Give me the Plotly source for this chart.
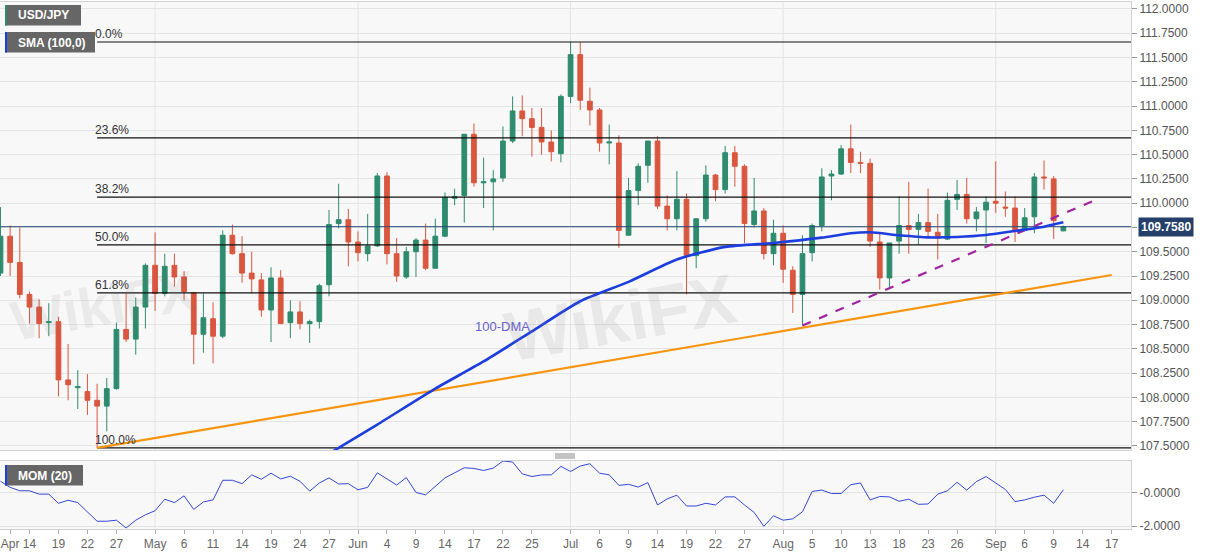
import pandas as pd
import plotly.graph_objects as go

# trading days shown on the axis (weekdays), last candle is Sep 10
all_days = [d.strftime("%Y-%m-%d") for d in pd.bdate_range("2021-04-09", "2021-09-21")]

opens = [109.28, 109.66, 109.39, 109.06, 108.93, 108.77, 108.78, 108.18, 108.10, 108.06,
         107.97, 107.91, 108.09, 108.70, 108.60, 108.93, 109.36, 109.07, 109.36, 109.24,
         109.08, 108.65, 108.81, 108.63, 109.67, 109.48, 109.28, 109.21, 108.90, 109.23,
         108.77, 108.88, 108.76, 108.78, 109.16, 109.79, 109.83, 109.60, 109.48, 109.56,
         110.28, 109.48, 109.24, 109.50, 109.62, 109.33, 109.66, 110.05, 110.08, 110.71,
         110.21, 110.22, 110.26, 110.64, 110.95, 110.87, 110.78, 110.63, 110.51, 111.10,
         111.53, 111.05, 110.96, 110.62, 110.62, 109.67, 110.13, 110.39, 110.64, 109.97,
         109.84, 110.04, 109.46, 109.84, 110.29, 110.14, 110.52, 110.38, 109.78, 109.92,
         109.48, 109.69, 109.31, 109.06, 109.49, 109.77, 110.28, 110.30, 110.56, 110.42,
         110.41, 109.60, 109.23, 109.61, 109.77, 109.73, 109.80, 109.70, 109.63, 110.04,
         110.09, 109.84, 109.93, 110.02, 109.96, 109.95, 109.72, 109.86, 110.27, 110.25,
         109.715]
highs = [109.96, 109.77, 109.75, 109.09, 109.01, 108.97, 108.83, 108.55, 108.28, 108.24,
         108.14, 108.20, 108.77, 109.07, 109.03, 109.38, 109.70, 109.48, 109.48, 109.30,
         109.08, 109.07, 108.98, 109.72, 109.78, 109.66, 109.50, 109.28, 109.34, 109.31,
         109.00, 108.99, 108.80, 109.17, 109.93, 110.20, 109.94, 109.71, 109.89, 110.31,
         110.32, 109.64, 109.55, 109.64, 109.79, 109.84, 110.11, 110.15, 110.71, 110.82,
         110.47, 110.34, 110.79, 111.10, 111.11, 110.98, 110.98, 110.75, 111.12, 111.66,
         111.66, 111.19, 110.98, 110.81, 110.70, 110.26, 110.41, 110.64, 110.69, 110.08,
         110.33, 110.10, 109.84, 110.39, 110.30, 110.59, 110.59, 110.40, 110.26, 109.95,
         109.83, 109.77, 109.35, 109.67, 109.79, 110.36, 110.34, 110.60, 110.81, 110.53,
         110.46, 109.69, 109.59, 110.07, 110.22, 109.89, 110.15, 109.89, 110.11, 110.24,
         110.26, 109.96, 110.07, 110.43, 110.12, 110.07, 109.95, 110.31, 110.44, 110.28,
         109.77]
lows = [109.25, 109.25, 109.02, 108.76, 108.61, 108.63, 108.01, 107.97, 107.88, 107.82,
        107.48, 107.65, 108.08, 108.57, 108.44, 108.71, 108.89, 109.04, 109.14, 109.00,
        108.34, 108.46, 108.35, 108.61, 109.47, 109.18, 109.07, 108.83, 108.57, 108.76,
        108.61, 108.70, 108.56, 108.71, 109.04, 109.74, 109.35, 109.40, 109.40, 109.55,
        109.37, 109.19, 109.22, 109.24, 109.31, 109.33, 109.65, 109.98, 109.80, 110.17,
        109.95, 109.72, 110.22, 110.62, 110.69, 110.48, 110.50, 110.43, 110.42, 111.03,
        110.96, 110.80, 110.53, 110.40, 109.54, 109.67, 109.98, 110.21, 109.94, 109.72,
        109.72, 109.06, 109.33, 109.81, 110.02, 110.10, 110.17, 109.59, 109.75, 109.42,
        109.36, 109.18, 108.87, 108.74, 109.40, 109.71, 110.03, 110.29, 110.31, 110.31,
        109.55, 109.11, 109.13, 109.48, 109.48, 109.57, 109.66, 109.42, 109.62, 109.93,
        109.79, 109.71, 109.59, 109.90, 109.86, 109.60, 109.71, 109.69, 110.14, 109.63,
        109.71]
closes = [109.66, 109.39, 109.06, 108.93, 108.76, 108.78, 108.18, 108.13, 108.11, 107.97,
          107.91, 108.09, 108.70, 108.60, 108.93, 109.36, 109.07, 109.35, 109.24, 109.09,
          108.65, 108.82, 108.63, 109.67, 109.48, 109.28, 109.22, 108.90, 109.23, 108.76,
          108.88, 108.76, 108.78, 109.15, 109.78, 109.83, 109.60, 109.49, 109.56, 110.28,
          109.48, 109.25, 109.50, 109.62, 109.33, 109.66, 110.06, 110.07, 110.71, 110.21,
          110.22, 110.25, 110.64, 110.95, 110.87, 110.78, 110.63, 110.53, 111.10, 111.53,
          111.06, 110.96, 110.62, 110.63, 109.72, 110.13, 110.38, 110.64, 109.97, 109.84,
          110.04, 109.46, 109.84, 110.29, 110.14, 110.52, 110.38, 109.79, 109.92, 109.48,
          109.69, 109.32, 109.06, 109.48, 109.77, 110.27, 110.30, 110.56, 110.42, 110.41,
          109.61, 109.23, 109.59, 109.77, 109.73, 109.80, 109.71, 109.64, 110.03, 110.09,
          109.84, 109.91, 110.01, 110.00, 109.95, 109.71, 109.85, 110.27, 110.26, 109.82,
          109.758]
dates = all_days[:len(closes)]

# MOM (20)
mom = [0.66, 0.30, 0.10, 0.10, -0.10, -0.10, -0.64, -0.46, -0.60, -1.16,
       -1.70, -1.70, -1.64, -2.10, -1.64, -1.32, -1.08, -0.40, -0.60, -0.20,
       -1.00, -0.56, -0.44, 0.72, 0.72, 0.52, 1.04, 0.78, 1.14, 0.80,
       0.96, 0.66, 0.08, 0.56, 0.86, 0.50, 0.52, 0.16, 0.30, 1.16,
       0.82, 0.44, 0.88, 0.00, -0.14, 0.36, 0.86, 1.16, 1.46, 1.42,
       1.30, 1.44, 1.86, 1.80, 1.10, 0.94, 1.04, 1.04, 1.54, 1.24,
       1.56, 1.70, 1.14, 1.04, 0.42, 0.48, 0.32, 0.58, -0.74, -0.38,
       -0.16, -0.80, -0.80, -0.64, -0.74, -0.26, -0.26, -0.74, -1.18, -2.00,
       -1.38, -1.64, -1.56, -1.14, 0.06, 0.14, -0.06, -0.06, 0.46, 0.56,
       -0.44, -0.24, -0.26, -0.52, -0.40, -0.70, -0.68, -0.10, 0.10, 0.60,
       0.14, 0.64, 0.94, 0.56, 0.18, -0.54, -0.44, -0.28, -0.16, -0.64,
       0.16]

# 100-day SMA
sma_dates = ["2021-05-26", "2021-06-03", "2021-06-11", "2021-06-18", "2021-06-25",
             "2021-07-02", "2021-07-09", "2021-07-16", "2021-07-23", "2021-07-30",
             "2021-08-06", "2021-08-11", "2021-08-13", "2021-08-18", "2021-08-23",
             "2021-08-26", "2021-08-31", "2021-09-03", "2021-09-08", "2021-09-10"]
sma_values = [107.36, 107.72, 108.09, 108.37, 108.68, 108.99, 109.19, 109.42, 109.55, 109.59,
              109.645, 109.69, 109.70, 109.67, 109.648, 109.652, 109.672, 109.714, 109.758, 109.803]

# Fibonacci retracement
fib_start = "2021-04-23"
fib_high = 111.66
fib_low = 107.48
fib_ratios = [0.0, 0.236, 0.382, 0.5, 0.618, 1.0]
fib_labels = ["0.0%", "23.6%", "38.2%", "50.0%", "61.8%", "100.0%"]

# trend lines
support_dates = ["2021-04-23", "2021-09-17"]
support_values = [107.48, 109.26]
rising_dates = ["2021-08-04", "2021-09-15"]
rising_values = [108.74, 110.02]

last_price = 109.758

tick_dates = ["2021-04-12", "2021-04-14", "2021-04-19", "2021-04-22", "2021-04-27",
              "2021-05-03", "2021-05-06", "2021-05-11", "2021-05-14", "2021-05-19",
              "2021-05-24", "2021-05-27", "2021-06-01", "2021-06-04", "2021-06-09",
              "2021-06-14", "2021-06-17", "2021-06-22", "2021-06-25", "2021-07-01",
              "2021-07-06", "2021-07-09", "2021-07-14", "2021-07-19", "2021-07-22",
              "2021-07-27", "2021-08-02", "2021-08-05", "2021-08-10", "2021-08-13",
              "2021-08-18", "2021-08-23", "2021-08-26", "2021-09-01", "2021-09-06",
              "2021-09-09", "2021-09-14", "2021-09-17"]
tick_labels = ["Apr", "14", "19", "22", "27", "May", "6", "11", "14", "19", "24", "27",
               "Jun", "4", "9", "14", "17", "22", "25", "Jul", "6", "9", "14", "19", "22",
               "27", "Aug", "5", "10", "13", "18", "23", "26", "Sep", "6", "9", "14", "17"]
month_starts = ["2021-05-03", "2021-06-01", "2021-07-01", "2021-08-02", "2021-09-01"]

W, H = 1207, 555
ML, MR, MT, MB = 0, 76, 2, 26
PW, PH = W - ML - MR, H - MT - MB


def px(x):
    return x / PW


def py(y):
    return (H - MB - y) / PH


FONT = "Arial, Liberation Sans, sans-serif"
GRID = "#e4e4e4"
BORDER = "#d2d2d2"

data = []

data.append(go.Candlestick(
    x=dates, open=opens, high=highs, low=lows, close=closes,
    increasing=dict(line=dict(color="#2e8b6e", width=1), fillcolor="#2e8b6e"),
    decreasing=dict(line=dict(color="#d9573f", width=1), fillcolor="#d9573f"),
    whiskerwidth=0, name="USD/JPY", xaxis="x", yaxis="y"))

# fib levels
fib_prices = [fib_high - r * (fib_high - fib_low) for r in fib_ratios]
for lvl in fib_prices:
    data.append(go.Scatter(x=[fib_start, all_days[-1]], y=[lvl, lvl], mode="lines",
                           line=dict(color="#111111", width=1.2), hoverinfo="skip",
                           xaxis="x", yaxis="y"))

# last price line
data.append(go.Scatter(x=[all_days[0], all_days[-1]], y=[last_price, last_price], mode="lines",
                       line=dict(color="#2a4a78", width=1), hoverinfo="skip", xaxis="x", yaxis="y"))

data.append(go.Scatter(x=support_dates, y=support_values, mode="lines",
                       line=dict(color="#f7950f", width=2.2), xaxis="x", yaxis="y"))
data.append(go.Scatter(x=rising_dates, y=rising_values, mode="lines",
                       line=dict(color="#a0249e", width=2.2, dash="dash"), xaxis="x", yaxis="y"))
data.append(go.Scatter(x=sma_dates, y=sma_values, mode="lines",
                       line=dict(color="#1c3ede", width=2.6, shape="spline", smoothing=0.6),
                       xaxis="x", yaxis="y"))

data.append(go.Scatter(x=dates, y=mom, mode="lines",
                       line=dict(color="#3347d6", width=1), xaxis="x2", yaxis="y2"))

fig = go.Figure(data=data)

xcommon = dict(type="category", categoryorder="array", categoryarray=all_days,
               range=[-0.05, len(all_days) - 1], showgrid=False, zeroline=False,
               showline=True, linecolor=BORDER, mirror=True)

fig.update_layout(
    width=W, height=H, showlegend=False,
    margin=dict(l=ML, r=MR, t=MT, b=MB),
    paper_bgcolor="white", plot_bgcolor="#f8f8f8",
    font=dict(family=FONT, size=12, color="#555555"),
    xaxis=dict(domain=[0, 1], anchor="y", showticklabels=False, ticks="",
               rangeslider=dict(visible=False), **xcommon),
    yaxis=dict(domain=[py(450), 1], anchor="x", side="right", range=[107.458, 112.072],
               tick0=107.5, dtick=0.25, tickformat=".4f", ticks="outside", ticklen=5,
               tickcolor="#999999", gridcolor=GRID, zeroline=False,
               showline=True, linecolor=BORDER, mirror=True,
               tickfont=dict(size=12, color="#555555"), automargin=False),
    xaxis2=dict(domain=[0, 1], anchor="y2", tickvals=tick_dates, ticktext=tick_labels,
                ticks="outside", ticklen=4, tickcolor="#aaaaaa",
                tickfont=dict(size=12, color="#666666"), automargin=False, **xcommon),
    yaxis2=dict(domain=[0, py(461)], anchor="x2", side="right", range=[-2.16, 1.86],
                tickvals=[0, -2], ticktext=["-0.0000", "-2.0000"], ticks="outside",
                ticklen=5, tickcolor="#999999", gridcolor=GRID, zeroline=False,
                showline=True, linecolor=BORDER, mirror=True,
                tickfont=dict(size=12, color="#555555"), automargin=False),
)

shapes = []
for d in month_starts:
    for xr, yr in (("x", "y domain"), ("x2", "y2 domain")):
        shapes.append(dict(type="line", xref=xr, yref=yr, x0=d, x1=d, y0=0, y1=1,
                           line=dict(color=GRID, width=1), layer="below"))

# panel labels
for (x0, y0, x1, y1, bar) in [(5, 5, 81, 25.5, "#2e8b6e"), (5, 32, 95, 52.5, "#1c3ede"),
                              (5, 465, 83, 485.5, "#1c3ede")]:
    shapes.append(dict(type="rect", xref="paper", yref="paper", x0=px(x0), x1=px(x1),
                       y0=py(y1), y1=py(y0), fillcolor="#666666", line=dict(width=0)))
    shapes.append(dict(type="rect", xref="paper", yref="paper", x0=px(x0), x1=px(x0 + 2),
                       y0=py(y1), y1=py(y0), fillcolor=bar, line=dict(width=0)))

# separator handle
for yy in (454, 456, 458):
    shapes.append(dict(type="line", xref="paper", yref="paper", x0=px(555), x1=px(575),
                       y0=py(yy), y1=py(yy), line=dict(color="#888888", width=1)))

fig.update_layout(shapes=shapes)

ann = []
for text, x0, yc in [("USD/JPY", 16, 15), ("SMA (100,0)", 16, 42.5), ("MOM (20)", 16, 475.5)]:
    ann.append(dict(text="<b>" + text + "</b>", xref="paper", yref="paper", x=px(x0), y=py(yc),
                    xanchor="left", yanchor="middle", showarrow=False,
                    font=dict(color="white", size=12, family=FONT)))

for lvl, lab in zip(fib_prices, fib_labels):
    ann.append(dict(text=lab, xref="x", yref="y", x=fib_start, y=lvl, xanchor="left",
                    yanchor="bottom", showarrow=False, xshift=-4, yshift=-1,
                    font=dict(color="#333333", size=12, family=FONT)))

ann.append(dict(text="100-DMA", xref="x", yref="y", x="2021-06-22", y=108.73,
                showarrow=False, font=dict(color="#6a5fd0", size=13, family=FONT)))

ann.append(dict(text="<b>109.7580</b>", xref="paper", yref="y", x=1, y=last_price,
                xanchor="left", yanchor="middle", xshift=7, showarrow=False,
                bgcolor="#24406a", borderpad=2,
                font=dict(color="white", size=12, family=FONT)))

# faint watermarks
ann.append(dict(text="<b>WikiFX</b>", xref="paper", yref="paper", x=px(620), y=py(318),
                showarrow=False, textangle=-10,
                font=dict(color="rgba(120,120,120,0.13)", size=70, family=FONT)))
ann.append(dict(text="<b>WikiFX</b>", xref="paper", yref="paper", x=px(4), y=py(305),
                xanchor="left", showarrow=False, textangle=-10,
                font=dict(color="rgba(120,120,120,0.10)", size=56, family=FONT)))

fig.update_layout(annotations=ann)

# the page body has a default margin; drop it so the chart sits at the top-left corner
fig.write_html("out.html", config={"displayModeBar": False},
               post_script="document.body.style.margin='0px';")
